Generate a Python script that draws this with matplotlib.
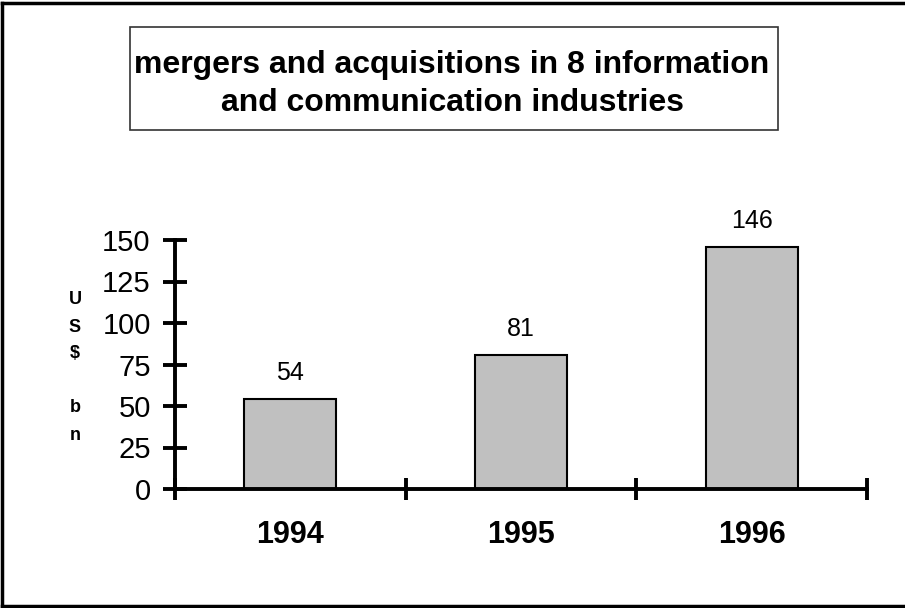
import matplotlib.pyplot as plt
from matplotlib.patches import Rectangle
from matplotlib.lines import Line2D

plt.rcParams['font.family'] = ['Liberation Sans', 'DejaVu Sans']

years = ['1994', '1995', '1996']
values = [54, 81, 146]
y_ticks = [0, 25, 50, 75, 100, 125, 150]
y_label_chars = ['U', 'S', '$', '', 'b', 'n']
title = 'mergers and acquisitions in 8 information\nand communication industries'

W, H = 905, 608
fig = plt.figure(figsize=(W / 100, H / 100), dpi=100)


def fx(px):
    return px / W


def fy(py):
    return 1 - py / H


# outer frame (right side runs off the picture)
for xs, ys in [([2, 2], [3, 606]), ([2, 910], [3, 3]), ([2, 910], [606, 606])]:
    fig.add_artist(Line2D([fx(x) for x in xs], [fy(y) for y in ys],
                          color='black', lw=2.5, transform=fig.transFigure))

# title box
fig.add_artist(Rectangle((fx(130), fy(130)), fx(778) - fx(130), fy(27) - fy(130),
                         transform=fig.transFigure, fill=False, ec='#333333', lw=1.2))
fig.text(fx(452), fy(84), title, ha='center', va='center', multialignment='center',
         fontsize=23, fontweight='bold', linespacing=1.38)

ax = fig.add_axes([fx(175), fy(489), fx(867) - fx(175), fy(240) - fy(489)])
x = list(range(len(years)))
bars = ax.bar(x, values, width=0.4, color='#c0c0c0', edgecolor='black', lw=1.5, zorder=2)
for xi, v in zip(x, values):
    ax.annotate(str(v), xy=(xi, v), xytext=(0, 10), textcoords='offset points',
                ha='center', va='bottom', fontsize=18)

ax.set_xlim(-0.5, len(years) - 0.5)
ax.set_ylim(0, 150)
for s in ['top', 'right']:
    ax.spines[s].set_visible(False)
for s in ['left', 'bottom']:
    ax.spines[s].set_linewidth(2.8)
    ax.spines[s].set_zorder(3)

ax.set_yticks(y_ticks)
ax.tick_params(axis='y', direction='inout', length=17, width=2.8, labelsize=21, pad=9)
ax.set_xticks([i - 0.5 for i in range(len(years) + 1)])
ax.set_xticklabels([])
ax.tick_params(axis='x', which='major', direction='inout', length=16, width=2.8)
ax.set_xticks(x, minor=True)
ax.set_xticklabels(years, minor=True, fontsize=22, fontweight='bold')
ax.tick_params(axis='x', which='minor', length=0, pad=22)

# stacked y label
for i, ch in enumerate(y_label_chars):
    fig.text(fx(75), fy(300 + i * 27), ch, ha='center', va='center',
             fontsize=13, fontweight='bold')

fig.savefig('out.png', dpi=100)
